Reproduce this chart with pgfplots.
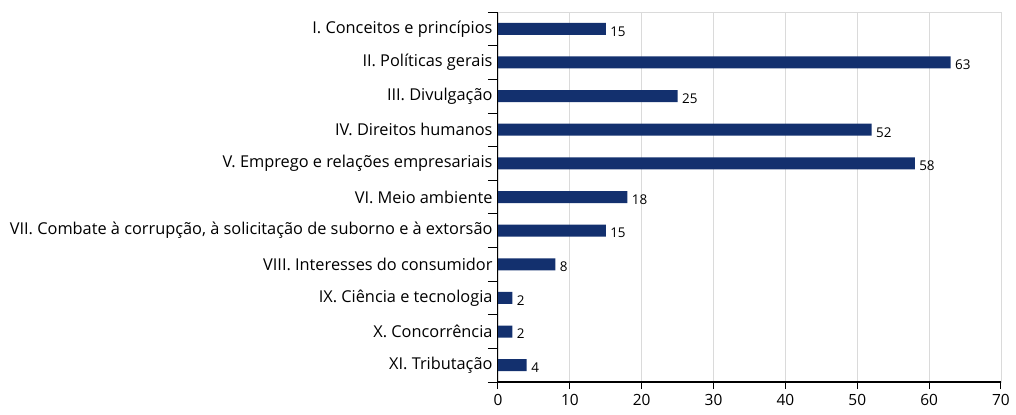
\documentclass[border=0pt]{standalone}
\usepackage{pgfplots}
\pgfplotsset{compat=1.18}
\usepackage{fontspec}
\setmainfont{Open Sans}
\definecolor{barblue}{HTML}{13306E}
\definecolor{gridgray}{HTML}{DADADA}
\begin{document}
\begin{tikzpicture}
\begin{axis}[
  at={(0,0)}, anchor=south west,
  scale only axis,
  width=503bp, height=370bp,
  xbar, bar width=12bp,
  xmin=0, xmax=70,
  ymin=-0.5, ymax=10.5,
  y dir=reverse,
  xtick={0,10,...,70},
  ytick={0,...,10},
  xtick pos=bottom, ytick pos=left,
  yticklabels={I. Conceitos e princípios, II. Políticas gerais, III. Divulgação, IV. Direitos humanos, V. Emprego e relações empresariais, VI. Meio ambiente, {VII. Combate à corrupção, à solicitação de suborno e à extorsão}, VIII. Interesses do consumidor, IX. Ciência e tecnologia, X. Concorrência, XI. Tributação},
  minor ytick={-0.5,0.5,...,10.5},
  major tick length=0pt,
  minor tick length=10bp,
  tick align=outside,
  extra x ticks={0,10,...,70},
  extra x tick labels={},
  extra x tick style={major tick length=7bp, tick style={black, line width=1pt}},
  xmajorgrids,
  grid style={gridgray, line width=0.8pt},
  axis line style={gridgray, line width=0.8pt},
  minor tick style={black, line width=0.8pt},
  yticklabel style={font=\fontsize{16.4}{18}\selectfont, text=black, xshift=-2bp},
  xticklabel style={font=\fontsize{15.5}{17}\selectfont, text=black, yshift=-9bp},
  /pgf/number format/assume math mode=true,
  nodes near coords,
  nodes near coords style={font=\fontsize{13.5}{15}\selectfont, anchor=west, xshift=1bp, yshift=-2.5bp, text=black},
  clip=false,
]
\addplot[fill=barblue, draw=none] coordinates {
(15,0) (63,1) (25,2) (52,3) (58,4) (18,5) (15,6) (8,7) (2,8) (2,9) (4,10)};
\draw[black, line width=1pt] (axis cs:0,-0.5) -- (axis cs:0,10.5);
\draw[black, line width=1.6pt] (axis cs:0,10.5) -- (axis cs:70,10.5);
\end{axis}
\useasboundingbox (-498bp,-33bp) rectangle (518bp,382bp);
\end{tikzpicture}
\end{document}
